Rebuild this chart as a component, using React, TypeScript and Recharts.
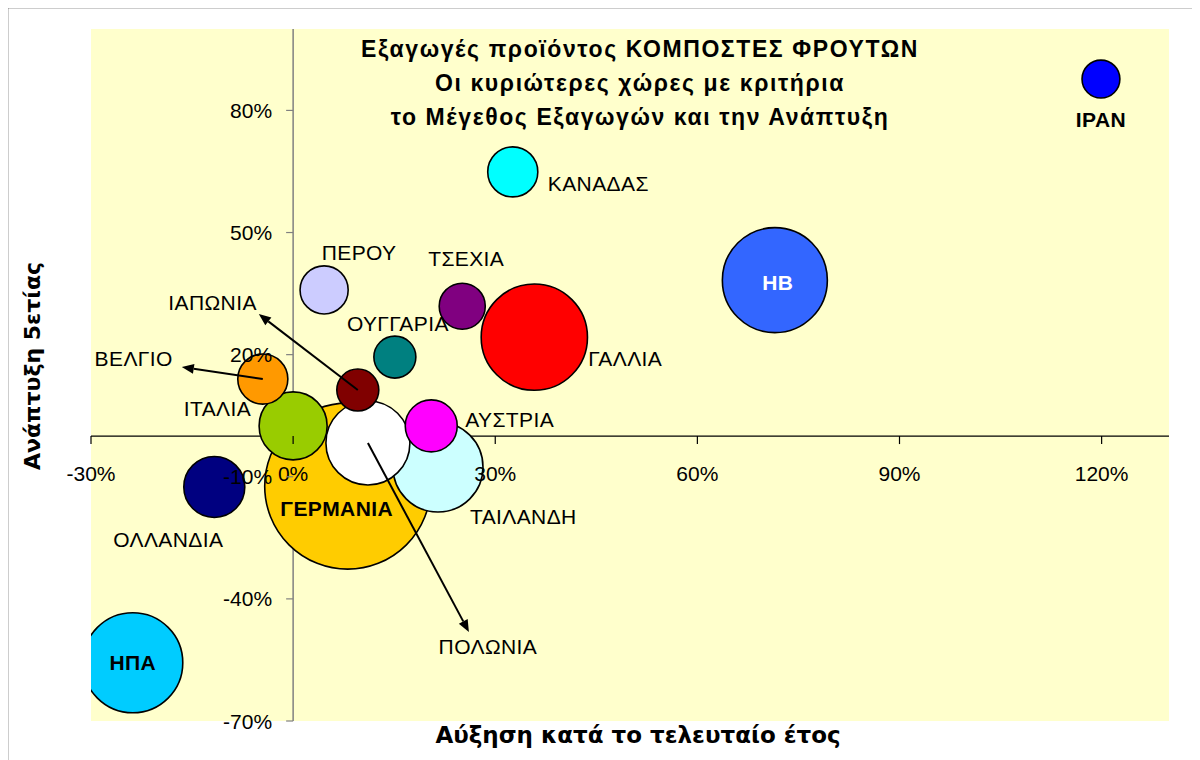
import {
  ScatterChart,
  Scatter,
  XAxis,
  YAxis,
  ZAxis,
  CartesianGrid,
  ReferenceLine,
  ReferenceDot,
} from 'recharts';

// Countries, growth over last year (x, %), 5-year growth (y, %), export size (bubble, Germany = 100)
const COUNTRIES = [
  'ΙΡΑΝ', 'ΚΑΝΑΔΑΣ', 'ΗΒ', 'ΓΑΛΛΙΑ', 'ΤΣΕΧΙΑ', 'ΠΕΡΟΥ', 'ΟΥΓΓΑΡΙΑ', 'ΙΑΠΩΝΙΑ',
  'ΒΕΛΓΙΟ', 'ΙΤΑΛΙΑ', 'ΑΥΣΤΡΙΑ', 'ΠΟΛΩΝΙΑ', 'ΤΑΙΛΑΝΔΗ', 'ΓΕΡΜΑΝΙΑ', 'ΟΛΛΑΝΔΙΑ', 'ΗΠΑ',
];
const GROWTH_LAST_YEAR = [119.9, 32.6, 71.5, 35.8, 25.1, 4.6, 15.1, 9.6, -4.5, 0, 20.5, 11.1, 21.5, 8.1, -11.7, -23.8];
const GROWTH_5Y = [87.7, 64.9, 38.3, 24.3, 31.9, 35.9, 19.4, 11.3, 14.0, 2.5, 2.5, -1.7, -7.6, -12.3, -12.5, -55.7];
const EXPORT_SIZE = [5.2, 9.1, 40, 41, 7.7, 8.4, 6.4, 6.4, 9.1, 16.8, 9.8, 25.6, 29.4, 100, 13.5, 36.3];

const X_TICKS = [-30, 0, 30, 60, 90, 120];
const Y_TICKS = [-70, -40, -10, 20, 50, 80];

const TITLE = [
  'Εξαγωγές προϊόντος ΚΟΜΠΟΣΤΕΣ ΦΡΟΥΤΩΝ',
  'Οι κυριώτερες χώρες με κριτήρια',
  'το Μέγεθος Εξαγωγών και την Ανάπτυξη',
];
const X_TITLE = 'Αύξηση κατά το τελευταίο έτος';
const Y_TITLE = 'Ανάπτυξη 5ετίας';

const FILLS: Record<string, string> = {
  'ΙΡΑΝ': '#0000FF',
  'ΚΑΝΑΔΑΣ': '#00FFFF',
  'ΗΒ': '#3366FF',
  'ΓΑΛΛΙΑ': '#FF0000',
  'ΤΣΕΧΙΑ': '#800080',
  'ΠΕΡΟΥ': '#CCCCFF',
  'ΟΥΓΓΑΡΙΑ': '#008080',
  'ΙΑΠΩΝΙΑ': '#800000',
  'ΒΕΛΓΙΟ': '#FF9900',
  'ΙΤΑΛΙΑ': '#99CC00',
  'ΑΥΣΤΡΙΑ': '#FF00FF',
  'ΠΟΛΩΝΙΑ': '#FFFFFF',
  'ΤΑΙΛΑΝΔΗ': '#CCFFFF',
  'ΓΕΡΜΑΝΙΑ': '#FFCC00',
  'ΟΛΛΑΝΔΙΑ': '#000080',
  'ΗΠΑ': '#00CCFF',
};

// label placement relative to the bubble centre, in px
type LabelCfg = { dx: number; dy: number; anchor: 'start' | 'middle' | 'end'; bold?: boolean; color?: string; arrow?: [number, number] };
const LABELS: Record<string, LabelCfg> = {
  'ΙΡΑΝ': { dx: 0, dy: 40, anchor: 'middle', bold: true },
  'ΚΑΝΑΔΑΣ': { dx: 35, dy: 12, anchor: 'start' },
  'ΗΒ': { dx: 3, dy: 2, anchor: 'middle', bold: true, color: '#FFFFFF' },
  'ΓΑΛΛΙΑ': { dx: 54, dy: 21, anchor: 'start' },
  'ΤΣΕΧΙΑ': { dx: 4, dy: -48, anchor: 'middle' },
  'ΠΕΡΟΥ': { dx: 35, dy: -37, anchor: 'middle' },
  'ΟΥΓΓΑΡΙΑ': { dx: 3, dy: -34, anchor: 'middle' },
  'ΙΑΠΩΝΙΑ': { dx: -101, dy: -88, anchor: 'end', arrow: [-99, -76] },
  'ΒΕΛΓΙΟ': { dx: -90, dy: -21, anchor: 'end', arrow: [-81, -12] },
  'ΙΤΑΛΙΑ': { dx: -42, dy: -17, anchor: 'end' },
  'ΑΥΣΤΡΙΑ': { dx: 34, dy: -6, anchor: 'start' },
  'ΠΟΛΩΝΙΑ': { dx: 120, dy: 204, anchor: 'middle', arrow: [101, 189] },
  'ΤΑΙΛΑΝΔΗ': { dx: 32, dy: 50, anchor: 'start' },
  'ΓΕΡΜΑΝΙΑ': { dx: -11, dy: 22, anchor: 'middle', bold: true },
  'ΟΛΛΑΝΔΙΑ': { dx: -46, dy: 53, anchor: 'middle' },
  'ΗΠΑ': { dx: 0, dy: 0, anchor: 'middle', bold: true },
};

const ARIAL = '"Liberation Sans", Arial, sans-serif';
const DEJAVU = '"DejaVu Sans", Verdana, sans-serif';
const MAX_R = 83;

const data = COUNTRIES.map((name, i) => ({
  name,
  x: GROWTH_LAST_YEAR[i],
  y: GROWTH_5Y[i],
  z: EXPORT_SIZE[i],
})).sort((a, b) => b.z - a.z); // big bubbles behind small ones

const renderBubble = (p: any) => (
  <circle
    cx={p.cx}
    cy={p.cy}
    r={p.width / 2}
    fill={FILLS[p.payload.name]}
    stroke="#000"
    strokeWidth={1.6}
  />
);

const renderLabel = (p: any) => {
  const name = p.payload.name;
  const cfg = LABELS[name];
  const { cx, cy } = p;
  let arrow = null;
  if (cfg.arrow) {
    const x2 = cx + cfg.arrow[0];
    const y2 = cy + cfg.arrow[1];
    const a = Math.atan2(y2 - cy, x2 - cx);
    const len = 12;
    const w = 5;
    const bx = x2 - len * Math.cos(a);
    const by = y2 - len * Math.sin(a);
    const pts = [
      [x2, y2],
      [bx + w * Math.sin(a), by - w * Math.cos(a)],
      [bx - w * Math.sin(a), by + w * Math.cos(a)],
    ]
      .map((q) => q.join(','))
      .join(' ');
    arrow = (
      <g>
        <line x1={cx} y1={cy} x2={bx} y2={by} stroke="#000" strokeWidth={2} />
        <polygon points={pts} fill="#000" />
      </g>
    );
  }
  return (
    <g>
      {arrow}
      <text
        x={cx + cfg.dx}
        y={cy + cfg.dy}
        textAnchor={cfg.anchor}
        dominantBaseline="central"
        fontFamily={ARIAL}
        fontSize={21}
        letterSpacing={0.4}
        fontWeight={cfg.bold ? 'bold' : 'normal'}
        fill={cfg.color ?? '#000'}
      >
        {name}
      </text>
    </g>
  );
};

const xTick = (t: number) => (p: any) => (
  <g>
    <line x1={p.cx} y1={p.cy} x2={p.cx} y2={p.cy + 8} stroke="#000" strokeWidth={1.2} />
    <text x={p.cx} y={p.cy + 37} textAnchor="middle" dominantBaseline="central" fontFamily={ARIAL} fontSize={21} fill="#000">
      {`${t}%`}
    </text>
  </g>
);

const yTick = (t: number) => (p: any) => (
  <g>
    <line x1={p.cx - 7} y1={p.cy} x2={p.cx} y2={p.cy} stroke="#808080" strokeWidth={1.2} />
    <text x={p.cx - 21} y={p.cy} textAnchor="end" dominantBaseline="central" fontFamily={ARIAL} fontSize={21} fill="#000">
      {`${t}%`}
    </text>
  </g>
);

export default function App() {
  return (
    <div
      style={{
        position: 'relative',
        width: 1200,
        height: 760,
        margin: '-8px 0 0 -8px',
        overflow: 'hidden',
        background: '#fff',
      }}
    >
      <div style={{ position: 'absolute', left: 8, top: 8 }}>
        <ScatterChart width={1192} height={752} margin={{ top: 21, right: 31, bottom: 39, left: 83 }}>
          <CartesianGrid fill="#FFFFCC" horizontal={false} vertical={false} />
          <XAxis type="number" dataKey="x" domain={[-30, 130]} hide allowDataOverflow />
          <YAxis type="number" dataKey="y" domain={[-70, 100]} hide allowDataOverflow />
          <ZAxis type="number" dataKey="z" domain={[0, 100]} range={[0, Math.PI * MAX_R * MAX_R]} />
          <ReferenceLine x={0} stroke="#808080" strokeWidth={1.5} />
          <ReferenceLine y={0} stroke="#000" strokeWidth={1.2} />
          <Scatter data={data} shape={renderBubble} isAnimationActive={false} />
          {X_TICKS.map((t) => (
            <ReferenceDot key={`x${t}`} x={t} y={0} r={0} shape={xTick(t)} />
          ))}
          {Y_TICKS.map((t) => (
            <ReferenceDot key={`y${t}`} x={0} y={t} r={0} shape={yTick(t)} />
          ))}
          <Scatter data={data} shape={renderLabel} isAnimationActive={false} />
        </ScatterChart>
      </div>
      <svg
        width={1200}
        height={760}
        style={{ position: 'absolute', left: 0, top: 0, pointerEvents: 'none' }}
      >
        {/* chart frame, only top and left edges are inside the picture */}
        <path d="M7 900 L7 7 L1300 7" fill="none" stroke="#3a3a3a" strokeWidth={2.5} />
        {TITLE.map((line, i) => (
          <text
            key={i}
            x={640}
            y={57 + i * 34}
            textAnchor="middle"
            fontFamily={ARIAL}
            fontWeight="bold"
            fontSize={23}
            letterSpacing={1.6}
            fill="#000"
          >
            {line}
          </text>
        ))}
        <text x={638} y={743} textAnchor="middle" fontFamily={DEJAVU} fontWeight="bold" fontSize={23} fill="#000">
          {X_TITLE}
        </text>
        <text
          transform="translate(32,366) rotate(-90)"
          textAnchor="middle"
          dominantBaseline="central"
          fontFamily={DEJAVU}
          fontWeight="bold"
          fontSize={22}
          fill="#000"
        >
          {Y_TITLE}
        </text>
      </svg>
    </div>
  );
}
